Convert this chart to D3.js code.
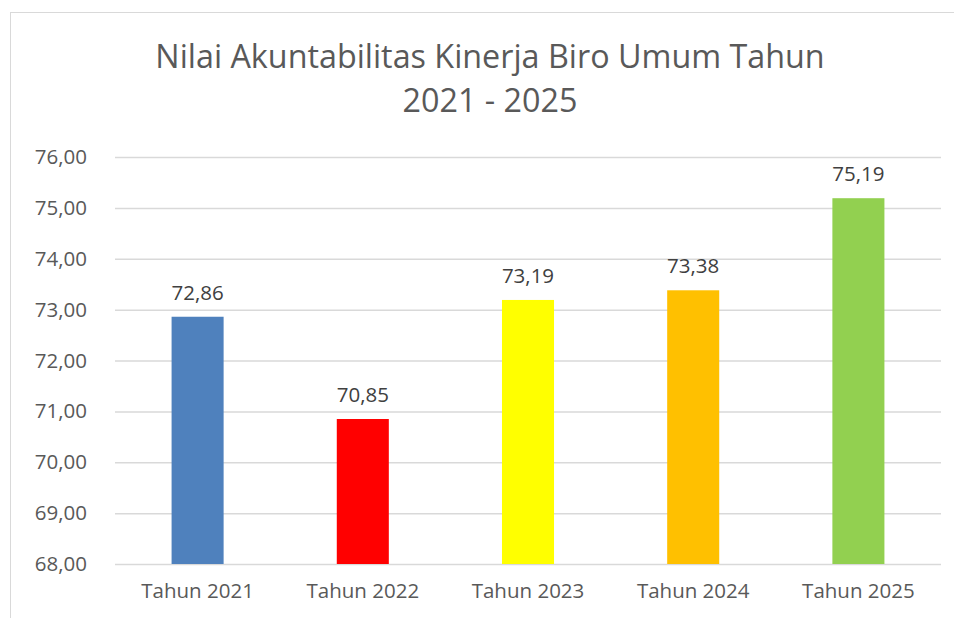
<!DOCTYPE html>
<meta charset="utf-8">
<style>
  body { margin: 0; background: #fff; }
  text { font-family: "Open Sans", sans-serif; }
</style>
<svg width="954" height="618"></svg>
<script src="https://d3js.org/d3.v7.min.js"></script>
<script>

var categories = ["Tahun 2021", "Tahun 2022", "Tahun 2023", "Tahun 2024", "Tahun 2025"];
var values = [72.86, 70.85, 73.19, 73.38, 75.19];
var colors = ["#4F81BD", "#FF0000", "#FFFF00", "#FFC000", "#92D050"];
var yTicks = [68, 69, 70, 71, 72, 73, 74, 75, 76];
var titleLines = ["Nilai Akuntabilitas Kinerja Biro Umum Tahun", "2021 - 2025"];

var svg = d3.select("svg"),
    margin = {top: 157, right: 13, bottom: 54, left: 115},
    width = +svg.attr("width") - margin.left - margin.right,
    height = +svg.attr("height") - margin.top - margin.bottom;

var fmt = function(v) { return v.toFixed(2).replace(".", ","); };

// chart frame
svg.append("rect")
    .attr("x", 10.5).attr("y", 12.5)
    .attr("width", 1000).attr("height", 1000)
    .attr("fill", "none")
    .attr("stroke", "#d9d9d9")
    .attr("stroke-width", 1);

svg.selectAll(".title")
  .data(titleLines)
  .enter().append("text")
    .attr("class", "title")
    .attr("x", 490)
    .attr("y", function(d, i) { return 68 + i * 44; })
    .attr("text-anchor", "middle")
    .attr("fill", "#595959")
    .style("font-size", "32.3px")
    .text(function(d) { return d; });

var x = d3.scaleBand().domain(categories).range([0, width]).paddingInner(0.685).paddingOuter(0.3425),
    y = d3.scaleLinear().domain([68, 76]).range([height, 0]);

var g = svg.append("g")
    .attr("transform", "translate(" + margin.left + "," + margin.top + ")");

g.append("g")
    .attr("class", "grid")
    .call(d3.axisLeft(y).tickValues(yTicks).tickSize(-width).tickFormat(""))
    .call(function(s) {
      s.select(".domain").remove();
      s.selectAll("line").attr("stroke", "#d9d9d9").attr("stroke-width", 1.5);
    });

g.append("g")
    .attr("class", "axis axis--y")
    .call(d3.axisLeft(y).tickValues(yTicks).tickSize(0).tickPadding(28).tickFormat(fmt))
    .call(function(s) {
      s.select(".domain").remove();
      s.selectAll("text").attr("fill", "#595959").style("font-size", "20.5px");
    });

g.append("g")
    .attr("class", "axis axis--x")
    .attr("transform", "translate(0," + height + ")")
    .call(d3.axisBottom(x).tickSize(0).tickPadding(19))
    .call(function(s) {
      s.select(".domain").remove();
      s.selectAll("text").attr("fill", "#595959").style("font-size", "20.5px");
    });

g.selectAll(".bar")
  .data(values)
  .enter().append("rect")
    .attr("class", "bar")
    .attr("x", function(d, i) { return x(categories[i]); })
    .attr("y", function(d) { return y(d); })
    .attr("width", x.bandwidth())
    .attr("height", function(d) { return height - y(d); })
    .style("fill", function(d, i) { return colors[i]; });

g.selectAll(".label")
  .data(values)
  .enter().append("text")
    .attr("class", "label")
    .attr("x", function(d, i) { return x(categories[i]) + x.bandwidth() / 2; })
    .attr("y", function(d) { return y(d) - 17; })
    .attr("text-anchor", "middle")
    .attr("fill", "#404040")
    .style("font-size", "20.5px")
    .text(fmt);

</script>
